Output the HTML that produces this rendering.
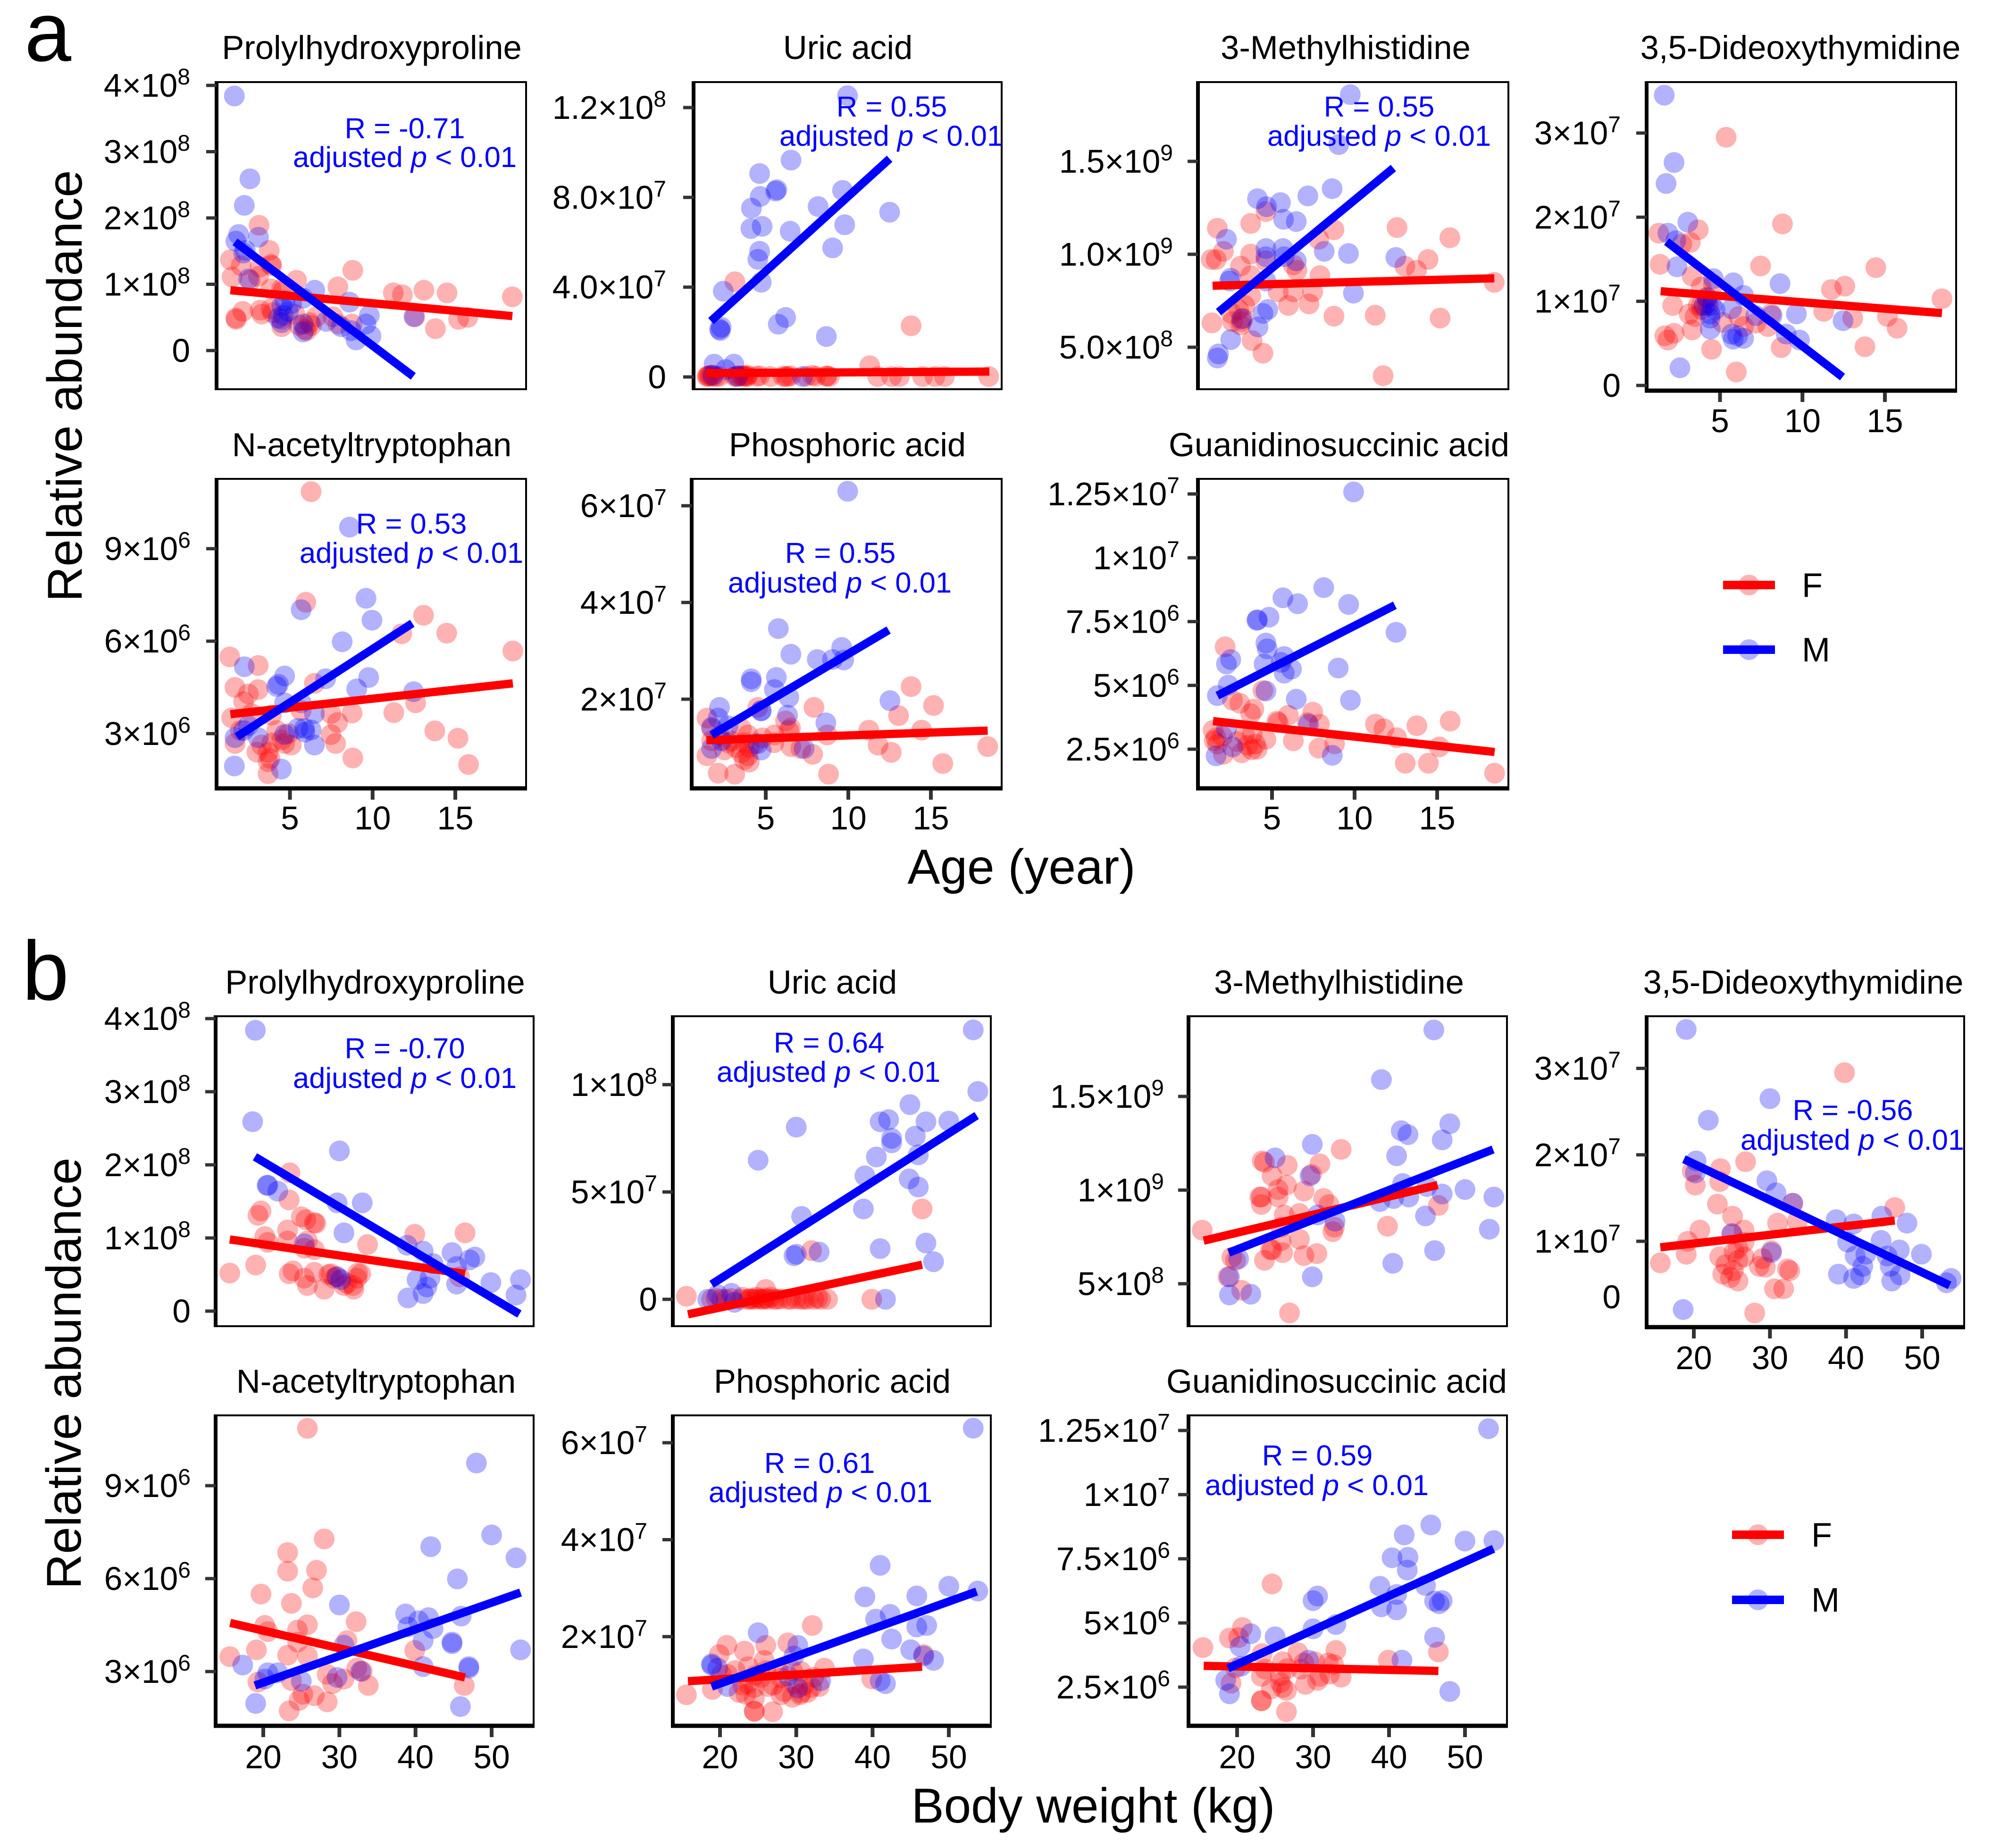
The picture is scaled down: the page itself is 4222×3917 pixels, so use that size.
<!DOCTYPE html>
<html lang="en">
<head>
<meta charset="utf-8">
<title>Relative abundance versus age and body weight</title>
<style>
html,body{margin:0;padding:0;background:#fff}
svg{display:block;font-family:"Liberation Sans",Arial,sans-serif}
.ttl{font-size:70.6px;text-anchor:middle;fill:#000}
.ann{font-size:61.6px;text-anchor:middle;fill:#0000ff}
.ax{font-size:103.5px;text-anchor:middle;fill:#000}
.let{font-size:178px;fill:#000}
.leg{font-size:72px;fill:#000}
.tk{font-size:69.5px;fill:#000}
</style>
</head>
<body>
<svg id="chart" xmlns="http://www.w3.org/2000/svg" width="4222" height="3917" viewBox="0 0 4222 3917">
<rect width="4222" height="3917" fill="#fff"/>
<text class="let" x="52" y="129">a</text>
<text class="let" x="47" y="2119">b</text>
<text class="ax" transform="translate(173,818) rotate(-90)">Relative abundance</text>
<text class="ax" transform="translate(171,2911) rotate(-90)">Relative abundance</text>
<text class="ax" x="2165" y="1873">Age (year)</text>
<text class="ax" x="2317" y="3863">Body weight (kg)</text>

<text class="ttl" x="788" y="125">Prolylhydroxyproline</text>
<text class="ttl" x="1797" y="125">Uric acid</text>
<text class="ttl" x="2852" y="125">3-Methylhistidine</text>
<text class="ttl" x="3816" y="125">3,5-Dideoxythymidine</text>
<text class="ttl" x="788" y="967">N-acetyltryptophan</text>
<text class="ttl" x="1796" y="967">Phosphoric acid</text>
<text class="ttl" x="2838" y="967">Guanidinosuccinic acid</text>
<text class="ttl" x="795" y="2106">Prolylhydroxyproline</text>
<text class="ttl" x="1764" y="2106">Uric acid</text>
<text class="ttl" x="2838" y="2106">3-Methylhistidine</text>
<text class="ttl" x="3822" y="2106">3,5-Dideoxythymidine</text>
<text class="ttl" x="797" y="2952">N-acetyltryptophan</text>
<text class="ttl" x="1764" y="2952">Phosphoric acid</text>
<text class="ttl" x="2833" y="2952">Guanidinosuccinic acid</text>

<g id="panels"></g>

<g>
<text class="ann" x="858" y="293">R = -0.71</text>
<text class="ann" x="858" y="354">adjusted <tspan font-style="italic">p</tspan> &lt; 0.01</text>
<text class="ann" x="1890" y="247">R = 0.55</text>
<text class="ann" x="1889" y="309">adjusted <tspan font-style="italic">p</tspan> &lt; 0.01</text>
<text class="ann" x="2923" y="247">R = 0.55</text>
<text class="ann" x="2923" y="309">adjusted <tspan font-style="italic">p</tspan> &lt; 0.01</text>
<text class="ann" x="872" y="1131">R = 0.53</text>
<text class="ann" x="872" y="1193">adjusted <tspan font-style="italic">p</tspan> &lt; 0.01</text>
<text class="ann" x="1781" y="1193">R = 0.55</text>
<text class="ann" x="1780" y="1256">adjusted <tspan font-style="italic">p</tspan> &lt; 0.01</text>
<text class="ann" x="858" y="2243">R = -0.70</text>
<text class="ann" x="858" y="2306">adjusted <tspan font-style="italic">p</tspan> &lt; 0.01</text>
<text class="ann" x="1757" y="2231">R = 0.64</text>
<text class="ann" x="1756" y="2293">adjusted <tspan font-style="italic">p</tspan> &lt; 0.01</text>
<text class="ann" x="3927" y="2374">R = -0.56</text>
<text class="ann" x="3926" y="2437">adjusted <tspan font-style="italic">p</tspan> &lt; 0.01</text>
<text class="ann" x="1737" y="3122">R = 0.61</text>
<text class="ann" x="1739" y="3184">adjusted <tspan font-style="italic">p</tspan> &lt; 0.01</text>
<text class="ann" x="2792" y="3106">R = 0.59</text>
<text class="ann" x="2791" y="3169">adjusted <tspan font-style="italic">p</tspan> &lt; 0.01</text>
</g>

<g>
<circle cx="3707" cy="1240" r="22" fill="#ff0000" fill-opacity="0.3"/>
<rect x="3652" y="1231" width="110" height="18" fill="#ff0000"/>
<text class="leg" x="3819" y="1265">F</text>
<circle cx="3707" cy="1377" r="22" fill="#0000ff" fill-opacity="0.3"/>
<rect x="3652" y="1368" width="110" height="18" fill="#0000ff"/>
<text class="leg" x="3819" y="1402">M</text>
</g>
<g>
<circle cx="3726" cy="3253" r="22" fill="#ff0000" fill-opacity="0.3"/>
<rect x="3671" y="3244" width="110" height="18" fill="#ff0000"/>
<text class="leg" x="3839" y="3278">F</text>
<circle cx="3726" cy="3391" r="22" fill="#0000ff" fill-opacity="0.3"/>
<rect x="3671" y="3382" width="110" height="18" fill="#0000ff"/>
<text class="leg" x="3839" y="3416">M</text>
</g>
</svg>

<script>
// x = age (years) in panels a*, body weight (kg) in panels b*. y is in the unit named by the tick labels.
// a1 Prolylhydroxyproline, y in 1e8
const a1F=[[3.13,1.89],[3.75,1.51],[1.4,1.37],[3.85,1.3],[2.05,1.28],[3.2,1.26],[1.5,1.11],[3.1,1.12],[2.6,1.06],[5.4,1.06],[7.9,.96],[8.8,1.21],[3.85,.93],[4.5,.93],[11.25,.87],[11.8,.84],[13.1,.91],[14.5,.87],[18.45,.81],[2.15,.59],[1.73,.49],[3.2,.61],[3.3,.55],[3.96,.57],[4.5,.36],[13.8,.33],[15.2,.47],[15.75,.5],[12.55,.51],[6.2,.42],[6.6,.51],[6,.3],[7.6,.51],[8.75,.4],[7.9,.4],[6.3,.38],[4.5,.47],[3.85,.63],[5.3,.55],[5.55,.38],[3.9,1.28],[4.6,.9],[1.75,.47],[5.9,.32]];
const a1M=[[1.64,3.84],[2.58,2.59],[2.24,2.19],[1.9,1.75],[1.73,1.65],[3.1,1.71],[2.3,1.51],[2.2,1.47],[2.5,1.08],[6.5,.91],[5.8,.79],[4.7,.75],[5.1,.71],[8.6,.73],[9.8,.53],[9.6,.4],[9.9,.22],[9,.16],[12.5,.51],[4.6,.53],[4.3,.49],[4.5,.42],[5.8,.28],[5.8,.4],[7.2,.44],[8.1,.36],[4.5,.67],[4.9,.59],[8.7,.3]];
const a1FLine=[[1.4,.91],[18.45,.52]];
const a1MLine=[[1.68,1.64],[12.46,-.39]];
const a1Ticks=[4,3,2,1,0];
const a1Labels=["4×10^8","3×10^8","2×10^8","1×10^8","0"];
// a2 Uric acid, y in 1e7
const a2F=[[3.13,4.24],[13.8,2.28],[11.3,.5],[1.44,.02],[1.63,.05],[1.81,.02],[2.19,.03],[3.13,.02],[3.32,.05],[3.5,.06],[3.79,.02],[3.88,.08],[4.45,.03],[4.63,.05],[5.29,.02],[6.04,.03],[6.32,.02],[6.51,.05],[7.45,.03],[7.83,.07],[8.02,.03],[8.67,.03],[8.86,.02],[11.78,.02],[12.62,.02],[13.09,.02],[14.5,.02],[15.25,.02],[15.82,.02],[18.5,.02],[1.5,.03],[1.7,.08],[3.2,.03],[3.6,.03],[3.7,.05],[3.9,.02],[2,.02],[6.2,.02],[8.7,.05],[1.55,.06]];
const a2M=[[9.95,12.53],[6.53,9.66],[4.63,9.06],[4.67,8.04],[5.67,8.34],[5.6,8.28],[4.13,7.52],[8.17,7.59],[9.65,8.31],[12.5,7.34],[4.1,6.61],[4.78,6.71],[6.48,6.49],[9.78,6.78],[9.05,5.75],[4.63,5.6],[4.52,5.24],[4.73,4.22],[2.43,3.82],[2.3,2.22],[2.25,2.07],[2.2,2.13],[6.2,2.65],[5.76,2.35],[8.67,1.8],[1.87,.57],[3.07,.57],[2.57,.33],[7.23,.02],[1.8,.08],[3.3,.02]];
const a2FLine=[[1.38,.17],[18.54,.24]];
const a2MLine=[[1.68,2.49],[12.5,9.72]];
const a2Ticks=[12,8,4,0];
const a2Labels=["1.2×10^8","8.0×10^7","4.0×10^7","0"];
// a3 3-Methylhistidine, y in 1e8
const a3F=[[4.63,12.3],[1.69,11.4],[3.71,11.66],[8.75,11.32],[12.57,11.44],[15.77,10.89],[7.83,10.81],[2.06,10.16],[1.62,9.72],[3.71,10.01],[4.63,9.65],[6.29,9.43],[3.09,9.36],[14.45,9.72],[13.05,9.36],[13.75,9.14],[3.71,8.85],[6.51,9.14],[7.9,8.85],[18.46,8.49],[5.37,7.98],[6.29,7.98],[7.46,7.98],[3.71,7.76],[3.35,7.25],[5.99,7.25],[7.24,7.33],[2.98,7.03],[1.36,6.31],[2.61,6.38],[3.16,6.38],[8.75,6.67],[11.25,6.72],[15.18,6.57],[3.79,5.36],[4.45,4.68],[11.73,3.47],[2.54,6.82],[1.32,9.72],[3.1,6.2],[3.25,6.55]];
const a3M=[[9.74,18.59],[9.04,15.9],[8.64,13.53],[7.17,13.14],[4.12,12.99],[5.51,12.78],[4.67,12.56],[5.7,11.88],[6.47,11.76],[2.24,10.81],[4.63,10.31],[5.66,10.31],[8.16,10.16],[9.63,10.04],[12.5,9.83],[4.63,9.87],[5.74,9.87],[6.47,9.65],[2.5,8.71],[4.63,8.56],[9.93,7.91],[4.74,7.03],[4.45,6.82],[4.15,6.09],[3.16,6.53],[2.5,5.41],[1.76,4.64],[1.69,4.42],[2.43,8.56]];
const a3FLine=[[1.4,8.31],[18.46,8.71]];
const a3MLine=[[1.76,6.89],[12.35,14.64]];
const a3Ticks=[15,10,5];
const a3Labels=["1.5×10^9","1.0×10^9","5.0×10^8"];
// a4 3,5-Dideoxythymidine, y in 1e7
const a4F=[[5.37,2.95],[8.79,1.92],[3.68,1.85],[1.29,1.81],[3.2,1.7],[2.68,1.68],[7.46,1.42],[14.45,1.4],[1.36,1.44],[3.31,1.3],[3.86,1.17],[4.6,1.2],[11.76,1.14],[12.57,1.18],[18.46,1.03],[2.13,.95],[3.68,.95],[3.13,.85],[3.86,.95],[11.29,.88],[8.09,.85],[6.14,.82],[13.05,.8],[15.15,.82],[15.74,.68],[5.15,.75],[7.17,.74],[6.43,.7],[7.9,.7],[3.31,.66],[2.21,.62],[1.65,.59],[1.84,.54],[4.49,.43],[8.71,.45],[13.79,.46],[5.99,.16],[4.23,.98],[3.49,.82],[3.9,.9],[4.2,1.05],[4.3,.95]];
const a4M=[[1.62,3.45],[2.21,2.65],[1.73,2.4],[3.05,1.94],[1.84,1.81],[2.32,1.72],[2.39,1.41],[4.6,1.27],[5.81,1.22],[8.64,1.21],[6.43,1.07],[4.04,.95],[4.41,.85],[5.7,.91],[8.16,.83],[9.63,.85],[12.46,.77],[4.41,.67],[5.7,.61],[6.07,.59],[6.43,.56],[9.01,.61],[9.82,.54],[2.57,.21],[4.23,1.04],[7.17,.83],[4.5,.95],[4.7,.9],[4.4,.8],[5.8,.55]];
const a4FLine=[[1.4,1.12],[18.46,.86]];
const a4MLine=[[1.76,1.71],[12.43,.1]];
const a4Ticks=[3,2,1,0];
const a4Labels=["3×10^7","2×10^7","1×10^7","0"];
// a5 N-acetyltryptophan, y in 1e6
const a5F=[[6.28,10.85],[5.96,7.26],[13.08,6.84],[14.48,6.26],[11.76,6.24],[18.48,5.68],[1.36,5.49],[3.08,5.21],[6.48,4.63],[1.68,4.5],[3.08,4.43],[2.48,4.29],[2.2,4.04],[12.6,4],[8.76,3.67],[11.28,3.68],[7.48,3.65],[5.68,3.75],[1.48,3.51],[3.88,3.6],[7.88,3.36],[13.76,3.09],[7.48,2.97],[15.16,2.85],[7.76,2.68],[1.68,2.68],[3.28,2.63],[4.68,2.68],[5.08,2.63],[3.68,2.39],[8.8,2.21],[15.8,2],[3.68,2.09],[3.68,1.7],[2.68,3.65],[3.8,2.2],[3.9,2.7],[4.5,2.8],[2,3.1],[3,2.4],[4.2,3.1],[4.9,3]];
const a5M=[[8.6,9.7],[9.6,7.39],[5.68,7.02],[9.96,6.68],[8.16,5.98],[2.24,5.17],[4.68,4.87],[9.76,4.82],[7.16,4.78],[4.2,4.53],[9.04,4.45],[12.48,4.36],[4.68,4],[5.68,4],[6.48,3.65],[2.48,3.26],[5.88,3.17],[6.28,3.12],[1.68,2.87],[4.68,2.97],[3.08,2.87],[6.48,2.63],[1.64,1.95],[4.48,1.85],[5.48,3.17],[4.3,4.6],[2.2,3.1],[5.9,3.05]];
const a5FLine=[[1.4,3.63],[18.48,4.63]];
const a5MLine=[[1.8,2.9],[12.4,6.58]];
const a5Ticks=[9,6,3];
const a5Labels=["9×10^6","6×10^6","3×10^6"];
// a6 Phosphoric acid, y in 1e7
const a6F=[[13.8,2.26],[7.92,1.83],[15.16,1.87],[4.52,1.83],[13.04,1.66],[1.44,1.61],[14.44,1.36],[11.24,1.36],[6.2,1.55],[1.72,1.39],[3.52,1.39],[3.92,1.26],[8.72,1.26],[5.52,1.26],[11.8,1.05],[18.44,1.02],[6.52,1.02],[12.6,.9],[1.44,.83],[3.52,.89],[3.92,.83],[7.84,.86],[15.72,.67],[2.12,.47],[3.12,.45],[8.8,.45],[1.72,1.14],[4.32,1.08],[7.12,.98],[2.92,1.14],[2.2,1.25],[2.7,1.1],[3.2,1],[3.7,1.1],[3.7,.75],[4,.7],[4,1],[2.5,.95],[4.8,1.2],[5.5,1.1],[6.5,1.4],[6.4,1.35]];
const a6M=[[9.96,6.3],[5.76,3.46],[6.52,2.93],[9.6,3.07],[8.12,2.82],[9.04,2.82],[9.72,2.81],[4.12,2.42],[5.64,2.45],[4.12,2.36],[5.52,2.2],[6.4,2.04],[12.52,1.97],[2.2,1.83],[4.72,1.76],[6.32,1.67],[2.12,1.61],[8.64,1.51],[1.72,1.42],[2.72,1.45],[4.72,.95],[1.72,.98],[2.32,1.14],[7.32,.98],[4.72,1.76],[4.52,1.08]];
const a6FLine=[[1.4,1.15],[18.44,1.35]];
const a6MLine=[[1.72,1.26],[12.44,3.43]];
const a6Ticks=[6,4,2];
const a6Labels=["6×10^7","4×10^7","2×10^7"];
// a7 Guanidinosuccinic acid, y in 1e6
const a7F=[[2.16,6.51],[4.45,4.8],[2.61,4.42],[3.05,4.3],[3.9,4.07],[5.99,3.83],[7.47,3.95],[3.71,3.89],[5.37,3.54],[15.79,3.6],[7.14,3.54],[7.87,3.48],[11.26,3.48],[13.77,3.42],[11.78,3.3],[1.43,3.24],[12.55,2.95],[1.61,2.95],[3.34,3.07],[15.13,2.59],[4.63,2.89],[6.29,2.83],[3.53,2.65],[8.79,2.71],[7.84,2.54],[3.78,2.48],[13.07,1.95],[14.47,1.95],[18.48,1.56],[3.16,2.36],[2.05,2.3],[1.5,2.83],[2,3],[1.7,2.7],[3.8,3.1],[4,2.7],[4.1,2.5],[5.3,3.6],[2.9,2.8]];
const a7M=[[9.94,12.58],[8.13,8.83],[5.66,8.43],[6.55,8.2],[9.64,8.17],[4.82,7.67],[4.12,7.57],[12.51,7.08],[4.63,6.66],[4.71,6.43],[5.74,6.13],[2.5,6.01],[2.24,5.84],[4.52,5.84],[5.55,5.9],[6.18,5.64],[5.74,5.48],[9.01,5.68],[2.35,5.01],[1.69,4.6],[4.63,4.78],[6.47,4.46],[9.75,4.42],[2.24,3.3],[7.21,3.48],[2.61,2.59],[1.61,2.24],[8.65,2.26],[4.08,7.55]];
const a7FLine=[[1.43,3.6],[18.48,2.39]];
const a7MLine=[[1.69,4.6],[12.44,8.14]];
const a7Ticks=[12.5,10,7.5,5,2.5];
const a7Labels=["1.25×10^7","1×10^7","7.5×10^6","5×10^6","2.5×10^6"];
// b1 Prolylhydroxyproline, y in 1e8
const b1F=[[23.5,1.89],[23.4,1.52],[19.7,1.37],[19.3,1.31],[25,1.29],[26.7,1.21],[23.2,1.11],[20.2,1.02],[20.6,.94],[23.2,.96],[25.8,.96],[26.7,.84],[33.7,.91],[39.9,1.05],[46.5,1.07],[15.6,.52],[19,.63],[23.4,.51],[25.4,.45],[26.7,.53],[28.9,.51],[32.8,.51],[25.8,.35],[28,.3],[30.6,.35],[31.9,.3],[32.3,.45],[29.3,.45],[25.4,.86],[45.8,.47],[25.6,1.25],[26.9,1.2],[28.6,.5],[29.6,.47],[31,.38],[31.8,.35],[32.4,.52],[23.9,.55]];
const b1M=[[18.96,3.84],[18.6,2.59],[30,2.19],[20.6,1.72],[21.9,1.64],[29.7,1.48],[33,1.48],[30.6,1.07],[38.9,.9],[41,.82],[44.8,.8],[47.8,.74],[47.1,.7],[42.3,.65],[45.4,.61],[25.4,.92],[40.2,.43],[41.9,.45],[41.5,.33],[49.9,.39],[53.8,.43],[53.2,.22],[45.4,.37],[39,.18],[41,.24],[30.2,.43],[29.7,.47],[20.5,1.72]];
const b1FLine=[[15.6,.98],[46.5,.51]];
const b1MLine=[[18.9,2.11],[53.65,-.04]];
const b1Ticks=[4,3,2,1,0];
const b1Labels=["4×10^8","3×10^8","2×10^8","1×10^8","0"];
// b2 Uric acid, y in 1e7
const b2F=[[46.5,4.21],[32,2.27],[26,.46],[15.6,.14],[39.9,0],[18.9,0],[20.2,0],[22.8,0],[23.7,0],[24.5,0],[25.4,0],[26.3,0],[27.1,0],[28.9,0],[30.6,0],[31.5,0],[32.3,0],[33.2,0],[34.1,0],[19.5,.05],[20.8,0],[22.9,.1],[24,0],[24.8,.1],[25.7,0],[26.7,.1],[27.5,0],[29.3,0],[31,0],[32.8,.05],[24,.05],[25,.03],[26,.05],[28,.02],[30,.02],[21.5,.04]];
const b2M=[[53.2,12.55],[53.8,9.68],[44.9,9.07],[47,8.27],[50,8.3],[41,8.27],[42.1,8.37],[30,8.02],[45.6,7.6],[42.5,7.5],[42.5,7.29],[46,6.73],[40.5,6.63],[25,6.48],[39,5.75],[44.8,5.61],[46,5.23],[38.8,4.21],[30.7,3.86],[47,2.62],[41,2.36],[33,2.2],[29.7,2.03],[48,1.75],[41.7,0],[19.7,.21],[21.5,.28],[21.9,-.14],[18.4,0],[30,2.1]];
const b2FLine=[[15.8,-.7],[46.5,1.61]];
const b2MLine=[[18.9,.7],[53.65,8.56]];
const b2Ticks=[10,5,0];
const b2Labels=["1×10^8","5×10^7","0"];
// b3 3-Methylhistidine, y in 1e8
const b3F=[[33.7,12.17],[23.3,11.56],[23.6,11.48],[26.6,11.32],[30.9,11.4],[24.6,10.76],[26.5,10.27],[29.8,10.84],[25.4,10.03],[28.8,9.95],[23.2,9.63],[23,9.63],[25.4,9.63],[31.4,9.55],[23.2,9.23],[32.1,9.23],[26.2,8.67],[28.2,8.75],[46.5,9.18],[39.8,8.07],[15.4,7.86],[32.8,8.02],[32.6,7.78],[28.2,7.38],[25.8,7.3],[24.6,6.82],[24.4,6.82],[30.5,6.61],[28.8,6.5],[26,6.66],[23.6,6.25],[19.3,6.41],[19.8,6.25],[18.8,5.37],[20.6,4.65],[26.9,3.44],[25.8,8.02]];
const b3M=[[45.9,18.55],[39,15.9],[48,13.54],[41.6,13.17],[42.5,12.96],[47,12.68],[29.9,12.44],[41,11.83],[25,11.72],[29.6,10.76],[41.8,10.35],[45,10.19],[50,10.03],[47,9.79],[53.8,9.63],[42.6,9.63],[40.6,9.55],[38.8,9.39],[44.8,8.62],[53.2,7.91],[30.6,8.67],[32.9,8.34],[46,6.77],[20.2,6.33],[40.5,6.09],[29.9,5.37],[19,5.37],[19,4.4],[21.8,4.44]];
const b3FLine=[[15.6,7.3],[46.4,10.27]];
const b3MLine=[[18.9,6.66],[53.7,12.17]];
const b3Ticks=[15,10,5];
const b3Labels=["1.5×10^9","1×10^9","5×10^8"];
// b4 3,5-Dideoxythymidine, y in 1e7
const b4F=[[39.8,2.95],[26.8,1.92],[23.5,1.84],[19.8,1.81],[23.4,1.69],[20.2,1.65],[33,1.44],[23.1,1.43],[25.1,1.29],[46.4,1.39],[31,1.21],[33.6,1.23],[20.8,1.13],[26.6,1.13],[25,1.08],[19.2,1],[15.6,.75],[19,.85],[23.4,.82],[25.8,.92],[26.6,.99],[29,.8],[30.2,.89],[25.8,.78],[24.2,.73],[32.6,.66],[32.3,.68],[28.6,.71],[23.8,.62],[25.8,.54],[30.6,.45],[31.8,.45],[28,.17],[26.6,.82],[25.2,.66],[24.8,.58],[29.4,.7],[25.3,.88]];
const b4M=[[19,3.45],[30,2.65],[21.9,2.4],[20.3,1.93],[29.6,1.7],[30.8,1.56],[33,1.44],[20.2,1.79],[38.7,1.25],[41,1.2],[44.7,1.29],[48,1.21],[25,1.09],[40.2,.99],[44.6,1.01],[47,.9],[41.2,.83],[42.6,.85],[45.4,.83],[49.9,.85],[30.2,.87],[42.2,.71],[39,.62],[41,.57],[45.8,.71],[47.1,.61],[41.9,.61],[46,.54],[53.2,.52],[53.8,.57],[18.6,.21]];
const b4FLine=[[15.6,.93],[46.4,1.24]];
const b4MLine=[[18.7,1.95],[53.6,.49]];
const b4Ticks=[3,2,1];
const b4Labels=["3×10^7","2×10^7","1×10^7"];
// b5 N-acetyltryptophan, y in 1e6
const b5F=[[25.8,10.85],[28,7.28],[23.2,6.84],[23.2,6.24],[27,6.27],[26.5,5.7],[19.7,5.5],[23.7,5.2],[32.2,4.61],[25.8,4.51],[24.5,4.34],[20.6,4.29],[19.1,3.7],[24.5,3.95],[31,4],[39.9,3.68],[15.6,3.48],[23.2,3.53],[25.8,3.5],[28.4,2.91],[32.3,3.11],[33,3.01],[30.6,2.76],[29.1,2.61],[33.8,2.55],[46.4,2.55],[19.3,2.66],[23.7,2.71],[25.2,2.27],[26.7,2.22],[28.4,2.02],[24.7,2.07],[23.4,1.73],[20.2,4.49]];
const b5M=[[48,9.73],[50,7.41],[42,7.03],[53.2,6.67],[45.5,5.99],[30,5.15],[38.7,4.86],[46,4.79],[41.7,4.74],[40.4,4.64],[39,4.44],[42.3,4.39],[41,4],[44.8,3.95],[44.8,3.9],[30.6,3.85],[17.3,3.21],[20.6,2.96],[21.9,2.96],[41,3.16],[47,3.16],[47,3.11],[25,2.69],[29.7,2.81],[32.8,3.01],[53.8,3.7],[19,1.97],[45.9,1.87],[20.2,2.76]];
const b5FLine=[[15.65,4.57],[46.5,2.81]];
const b5MLine=[[18.9,2.55],[53.8,5.55]];
const b5Ticks=[9,6,3];
const b5Labels=["9×10^6","6×10^6","3×10^6"];
// b6 Phosphoric acid, y in 1e7
const b6F=[[32.1,2.23],[20.9,1.82],[28.9,1.87],[26,1.82],[23.2,1.7],[19.9,1.63],[46.7,1.63],[25.8,1.51],[33.7,1.35],[23.7,1.38],[27.6,1.32],[30.6,1.28],[15.6,.8],[19,.91],[23.4,.81],[24.5,.72],[26.3,.97],[28.4,.87],[30.6,.84],[33,.97],[39.9,1.13],[24.5,.46],[26.9,.45],[24.5,.46],[21,1.22],[25.4,1.16],[20.2,1.22],[29.7,1.03],[32.3,1.16],[23.7,1.03],[22,1.3],[23,1],[24.6,1.2],[26,1.3],[27,1],[28,1.15],[29.5,1.3],[31,1],[31.5,.85],[22.5,.85],[24.5,.95],[28,.8],[29.5,.75],[30.5,.8],[32,.95]];
const b6M=[[53.2,6.3],[41,3.47],[50,3.04],[45.8,2.84],[53.8,2.94],[39,2.82],[42.3,2.46],[40.4,2.36],[47.1,2.23],[45.8,2.2],[25,2.08],[30.2,1.82],[42.5,1.95],[45,1.73],[38.8,1.54],[48,1.51],[46.7,1.6],[18.9,1.44],[19.7,1.35],[29.7,1.6],[21,.97],[41,1.09],[41.7,1.03],[30.2,.94],[33.2,1.09],[18.9,1.41],[28.9,1.19]];
const b6FLine=[[15.8,1.08],[46.5,1.38]];
const b6MLine=[[18.9,.97],[53.65,2.93]];
const b6Ticks=[6,4,2];
const b6Labels=["6×10^7","4×10^7","2×10^7"];
// b7 Guanidinosuccinic acid, y in 1e6
const b7F=[[20.7,4.82],[19,4.41],[20.2,4.43],[15.5,4.04],[23.3,3.8],[26,3.49],[28,3.84],[33,3.93],[39.9,3.55],[26.6,3.22],[28.8,3.44],[30.2,3.49],[32,3.44],[32.7,3.38],[19.2,2.65],[23.2,2.92],[23.7,3.2],[25.7,2.94],[25.7,2.67],[26,2.48],[26.5,2.37],[24.5,2.43],[29,2.61],[30.6,2.76],[30.9,2.92],[32.2,3.01],[33.7,2.89],[23.2,1.97],[23.2,1.97],[26.5,1.54],[28.4,3.2],[19.8,3.25],[46.5,3.87],[24.6,6.52]];
const b7M=[[53.1,12.57],[45.5,8.82],[42,8.43],[50,8.19],[53.8,8.21],[40.4,7.54],[42.5,7.56],[42.4,7.06],[38.8,6.43],[44.8,6.46],[41,6.11],[30,5.87],[30.6,6.05],[46,5.85],[47,5.87],[46.6,5.75],[41,5.51],[39,5.63],[30,4.77],[33,4.94],[21.8,4.58],[25,4.46],[46,4.44],[20.4,4.08],[41.7,3.55],[29.4,3.55],[20.5,3.31],[18.5,2.77],[19,2.24],[48,2.33]];
const b7FLine=[[15.6,3.33],[46.5,3.13]];
const b7MLine=[[18.8,3.23],[53.76,7.89]];
const b7Ticks=[12.5,10,7.5,5,2.5];
const b7Labels=["1.25×10^7","1×10^7","7.5×10^6","5×10^6","2.5×10^6"];
const ageTicks=[5,10,15];
const weightTicks=[20,30,40,50];

const NS='http://www.w3.org/2000/svg';
function mk(tag,attrs,parent){
  const el=document.createElementNS(NS,tag);
  for(const k in attrs)el.setAttribute(k,attrs[k]);
  parent.appendChild(el);
  return el;
}
function linear(v1,p1,v2,p2){return v=>p1+(v-v1)*(p2-p1)/(v2-v1);}

function drawTickLabel(g,text,x,y){
  const t=mk('text',{class:'tk',x:x,y:y,'text-anchor':'end'},g);
  
  
  const parts=text.split('^');
  const base=mk('tspan',{},t);
  base.textContent=parts[0];
  if(parts[1]){
    const sup=mk('tspan',{'font-size':'48','dy':'-26'},t);
    sup.textContent=parts[1];
  }
}

function drawPanel(cfg){
  const root=document.getElementById('panels');
  const g=mk('g',{},root);
  
  
  const [l,t,r,b]=cfg.box;
  const xs=linear(...cfg.xa), ys=linear(...cfg.ya);

  const frame=mk('rect',{x:l,y:t,width:r-l,height:b-t,fill:'#fff',stroke:'#000','stroke-width':4},g);
  
  
  const yAxis=mk('line',{x1:l,y1:t-2,x2:l,y2:b+2,stroke:'#000','stroke-width':8},g);
  
  

  cfg.ticks.forEach((v,i)=>{
    const y=ys(v);
    const tick=mk('line',{x1:l-22,y1:y,x2:l,y2:y,stroke:'#333','stroke-width':7},g);
    
    
    drawTickLabel(g,cfg.labels[i],cfg.labelRight,y+24);
  });

  if(cfg.xTicks){
    const xAxis=mk('line',{x1:l-4,y1:b,x2:r+2,y2:b,stroke:'#000','stroke-width':9},g);
    
    
    cfg.xTicks.forEach(v=>{
      const x=xs(v);
      const tick=mk('line',{x1:x,y1:b+4,x2:x,y2:b+24,stroke:'#333','stroke-width':8},g);
      
      
      const lab=mk('text',{class:'tk',x:x,y:cfg.xLabelY,'text-anchor':'middle'},g);
      
      
      lab.textContent=String(v);
    });
  }

  cfg.f.forEach(p=>{
    const c=mk('circle',{cx:xs(p[0]),cy:ys(p[1]),r:22,fill:'#ff0000','fill-opacity':0.3},g);
    
    
  });
  cfg.m.forEach(p=>{
    const c=mk('circle',{cx:xs(p[0]),cy:ys(p[1]),r:22,fill:'#0000ff','fill-opacity':0.3},g);
    
    
  });
  const fl=mk('line',{x1:xs(cfg.fLine[0][0]),y1:ys(cfg.fLine[0][1]),x2:xs(cfg.fLine[1][0]),y2:ys(cfg.fLine[1][1]),stroke:'#ff0000','stroke-width':17.5},g);
  
  
  const ml=mk('line',{x1:xs(cfg.mLine[0][0]),y1:ys(cfg.mLine[0][1]),x2:xs(cfg.mLine[1][0]),y2:ys(cfg.mLine[1][1]),stroke:'#0000ff','stroke-width':17.5},g);
  
  
}

const c1x=[5,614.5,15,965], c2x=[5,1623,15,1973], c3x=[5,2696,15,3046], c4x=[5,3645.5,15,3995];
const w1x=[20,558,50,1042], w2x=[20,1526,50,2011], w3x=[20,2622,50,3105], w4x=[20,3590,50,4074];

drawPanel({id:'a1',box:[459,174,1115,825],xa:c1x,ya:[4,181,0,743],ticks:a1Ticks,labels:a1Labels,labelRight:403,f:a1F,m:a1M,fLine:a1FLine,mLine:a1MLine});
drawPanel({id:'a2',box:[1470,174,2123,825],xa:c2x,ya:[12,228,0,799],ticks:a2Ticks,labels:a2Labels,labelRight:1412,f:a2F,m:a2M,fLine:a2FLine,mLine:a2MLine});
drawPanel({id:'a3',box:[2539,174,3197,825],xa:c3x,ya:[15,342,5,736],ticks:a3Ticks,labels:a3Labels,labelRight:2486,f:a3F,m:a3M,fLine:a3FLine,mLine:a3MLine});
drawPanel({id:'a4',box:[3490,174,4146,828],xa:c4x,ya:[3,282,0,817],ticks:a4Ticks,labels:a4Labels,labelRight:3435,f:a4F,m:a4M,fLine:a4FLine,mLine:a4MLine,xTicks:ageTicks,xLabelY:916});
drawPanel({id:'a5',box:[459,1015,1115,1671],xa:c1x,ya:[9,1163,3,1555],ticks:a5Ticks,labels:a5Labels,labelRight:404,f:a5F,m:a5M,fLine:a5FLine,mLine:a5MLine,xTicks:ageTicks,xLabelY:1758});
drawPanel({id:'a6',box:[1466,1015,2123,1671],xa:c2x,ya:[6,1072,2,1482],ticks:a6Ticks,labels:a6Labels,labelRight:1413,f:a6F,m:a6M,fLine:a6FLine,mLine:a6MLine,xTicks:ageTicks,xLabelY:1758});
drawPanel({id:'a7',box:[2539,1015,3197,1671],xa:c3x,ya:[12.5,1047,2.5,1588],ticks:a7Ticks,labels:a7Labels,labelRight:2500,f:a7F,m:a7M,fLine:a7FLine,mLine:a7MLine,xTicks:ageTicks,xLabelY:1758});
drawPanel({id:'b1',box:[457,2154,1131,2811],xa:w1x,ya:[4,2159,0,2779],ticks:b1Ticks,labels:b1Labels,labelRight:404,f:b1F,m:b1M,fLine:b1FLine,mLine:b1MLine});
drawPanel({id:'b2',box:[1426,2154,2100,2811],xa:w2x,ya:[10,2299,0,2754],ticks:b2Ticks,labels:b2Labels,labelRight:1393,f:b2F,m:b2M,fLine:b2FLine,mLine:b2MLine});
drawPanel({id:'b3',box:[2519,2154,3194,2811],xa:w3x,ya:[15,2324,5,2721],ticks:b3Ticks,labels:b3Labels,labelRight:2467,f:b3F,m:b3M,fLine:b3FLine,mLine:b3MLine});
drawPanel({id:'b4',box:[3490,2154,4163,2813],xa:w4x,ya:[3,2264.5,1,2631],ticks:b4Ticks,labels:b4Labels,labelRight:3435,f:b4F,m:b4M,fLine:b4FLine,mLine:b4MLine,xTicks:weightTicks,xLabelY:2902});
drawPanel({id:'b5',box:[457,3000,1131,3658],xa:w1x,ya:[9,3149,3,3543],ticks:b5Ticks,labels:b5Labels,labelRight:404,f:b5F,m:b5M,fLine:b5FLine,mLine:b5MLine,xTicks:weightTicks,xLabelY:3748});
drawPanel({id:'b6',box:[1426,3000,2100,3658],xa:w2x,ya:[6,3058,2,3469],ticks:b6Ticks,labels:b6Labels,labelRight:1372,f:b6F,m:b6M,fLine:b6FLine,mLine:b6MLine,xTicks:weightTicks,xLabelY:3748});
drawPanel({id:'b7',box:[2519,3000,3194,3658],xa:w3x,ya:[12.5,3032,2.5,3576],ticks:b7Ticks,labels:b7Labels,labelRight:2480,f:b7F,m:b7M,fLine:b7FLine,mLine:b7MLine,xTicks:weightTicks,xLabelY:3748});

// The zero label on panel b4 sits above the axis line with no tick in the original.
const zeroB4=mk('text',{class:'tk',x:3435,y:2773,'text-anchor':'end'},document.getElementById('panels'));


zeroB4.textContent='0';
</script>
</body>
</html>
